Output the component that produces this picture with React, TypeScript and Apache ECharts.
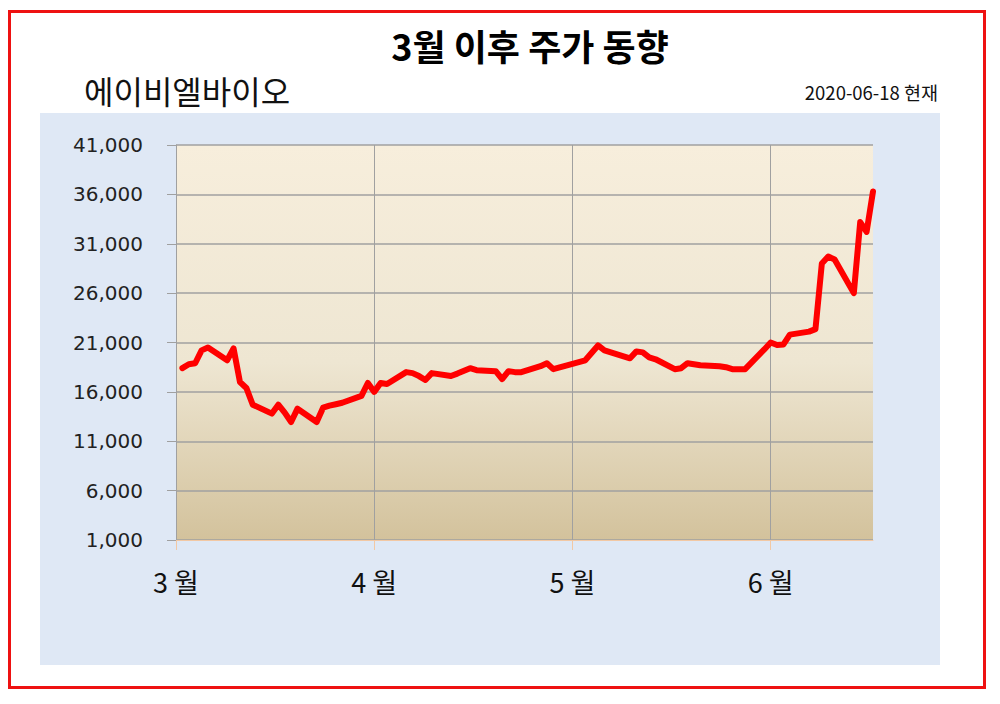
import React, { useEffect, useRef } from "react";
import * as echarts from "echarts";

const dates: string[] = [
  "03-02", "03-03", "03-04", "03-05", "03-06", "03-09", "03-10", "03-11", "03-12", "03-13",
  "03-16", "03-17", "03-18", "03-19", "03-20", "03-23", "03-24", "03-25", "03-26", "03-27",
  "03-30", "03-31", "04-01", "04-02", "04-03", "04-06", "04-07", "04-08", "04-09", "04-10",
  "04-13", "04-14", "04-16", "04-17", "04-20", "04-21", "04-22", "04-23", "04-24", "04-27",
  "04-28", "04-29", "05-04", "05-06", "05-07", "05-08", "05-11", "05-12", "05-13", "05-14",
  "05-15", "05-18", "05-19", "05-20", "05-21", "05-22", "05-25", "05-26", "05-27", "05-28",
  "05-29", "06-01", "06-02", "06-03", "06-04", "06-05", "06-08", "06-09", "06-10", "06-11",
  "06-12", "06-15", "06-16", "06-17", "06-18",
];

const prices: number[] = [
  18400, 18800, 18900, 20200, 20500, 19200, 20400, 17000, 16400, 14700,
  13800, 14700, 13900, 12950, 14300, 12950, 14400, 14600, 14750, 14900,
  15600, 16900, 16000, 16900, 16800, 18000, 17900, 17600, 17200, 17900,
  17600, 17850, 18400, 18200, 18100, 17300, 18100, 18000, 18000, 18600,
  18900, 18300, 19200, 20700, 20200, 20000, 19400, 20100, 20000, 19500,
  19300, 18300, 18400, 18900, 18800, 18700, 18600, 18500, 18300, 18300,
  18300, 20300, 21000, 20750, 20800, 21800, 22100, 22350, 29000, 29700,
  29400, 26000, 33200, 32200, 36300,
];

const yTicks = { min: 1000, max: 41000, step: 5000 };
const startDate = "03-01";
const endDate = "06-18";
const tickStepDays = 31;

const chartTitle = "3월 이후 주가 동향";
const companyName = "에이비엘바이오";
const asOfText = "2020-06-18 현재";

function dayOffset(md: string): number {
  const [m, d] = md.split("-").map(Number);
  const [sm, sd] = startDate.split("-").map(Number);
  return (Date.UTC(2020, m - 1, d) - Date.UTC(2020, sm - 1, sd)) / 86400000;
}

function monthLabel(v: number): string {
  const [sm, sd] = startDate.split("-").map(Number);
  const dt = new Date(Date.UTC(2020, sm - 1, sd) + v * 86400000);
  return dt.getUTCMonth() + 1 + " 월";
}

export default function App() {
  const ref = useRef<HTMLDivElement>(null);

  useEffect(() => {
    if (!ref.current) return;
    const chart = echarts.init(ref.current, null, { renderer: "svg" });
    const seriesData = dates.map((d, i) => [dayOffset(d), prices[i]]);

    chart.setOption({
      animation: false,
      backgroundColor: "#ffffff",
      graphic: [
        {
          type: "rect",
          z: -10,
          silent: true,
          shape: { x: 40, y: 113, width: 900, height: 552 },
          style: { fill: "#dfe8f5" },
        },
        {
          type: "rect",
          z: 100,
          silent: true,
          shape: { x: 9.5, y: 11.5, width: 975, height: 676 },
          style: { fill: "none", stroke: "#ee1111", lineWidth: 3 },
        },
        {
          type: "text",
          x: 530,
          y: 45,
          style: {
            text: chartTitle,
            fontFamily: "Noto Sans CJK KR",
            fontSize: 36,
            fontWeight: "bold",
            fill: "#000000",
            align: "center",
            verticalAlign: "middle",
          },
        },
        {
          type: "text",
          x: 84,
          y: 90,
          style: {
            text: companyName,
            fontFamily: "Noto Sans CJK KR",
            fontSize: 32,
            fill: "#111111",
            align: "left",
            verticalAlign: "middle",
          },
        },
        {
          type: "text",
          x: 938,
          y: 92,
          style: {
            text: asOfText,
            fontFamily: "Noto Sans CJK KR",
            fontSize: 18.5,
            fill: "#111111",
            align: "right",
            verticalAlign: "middle",
          },
        },
      ],
      grid: {
        left: 176,
        right: 127,
        top: 145,
        bottom: 164,
        show: true,
        borderWidth: 0,
        backgroundColor: new echarts.graphic.LinearGradient(0, 0, 0, 1, [
          { offset: 0, color: "#f7eedc" },
          { offset: 0.55, color: "#eee6d2" },
          { offset: 1, color: "#d3c29c" },
        ]),
      },
      xAxis: {
        type: "value",
        min: 0,
        max: dayOffset(endDate),
        interval: tickStepDays,
        axisLine: { show: true, lineStyle: { color: "#f2c8a4", width: 1 } },
        axisTick: { show: true, length: 10, lineStyle: { color: "#f2c8a4" } },
        splitLine: {
          show: true,
          showMaxLine: false,
          lineStyle: { color: "#a0a0a0", width: 1 },
        },
        axisLabel: {
          margin: 28,
          fontFamily: "Noto Sans CJK KR",
          fontSize: 27,
          color: "#111111",
          showMaxLabel: false,
          formatter: (v: number) => monthLabel(v),
        },
      },
      yAxis: {
        type: "value",
        min: yTicks.min,
        max: yTicks.max,
        interval: yTicks.step,
        axisLine: { show: true, lineStyle: { color: "#a0a0a0", width: 1 } },
        axisTick: { show: true, length: 9, lineStyle: { color: "#a0a0a0" } },
        splitLine: { show: true, lineStyle: { color: "#a0a0a0", width: 1.5 } },
        axisLabel: {
          margin: 33,
          fontFamily: "DejaVu Sans",
          fontSize: 20,
          color: "#222222",
          formatter: (v: number) => v.toLocaleString("en-US"),
        },
      },
      series: [
        {
          type: "line",
          data: seriesData,
          showSymbol: false,
          symbol: "none",
          lineStyle: { color: "#ff0000", width: 6, cap: "round", join: "round" },
        },
      ],
    });

    return () => chart.dispose();
  }, []);

  return (
    <div
      ref={ref}
      style={{ position: "fixed", left: 0, top: 0, width: 1000, height: 704 }}
    />
  );
}
